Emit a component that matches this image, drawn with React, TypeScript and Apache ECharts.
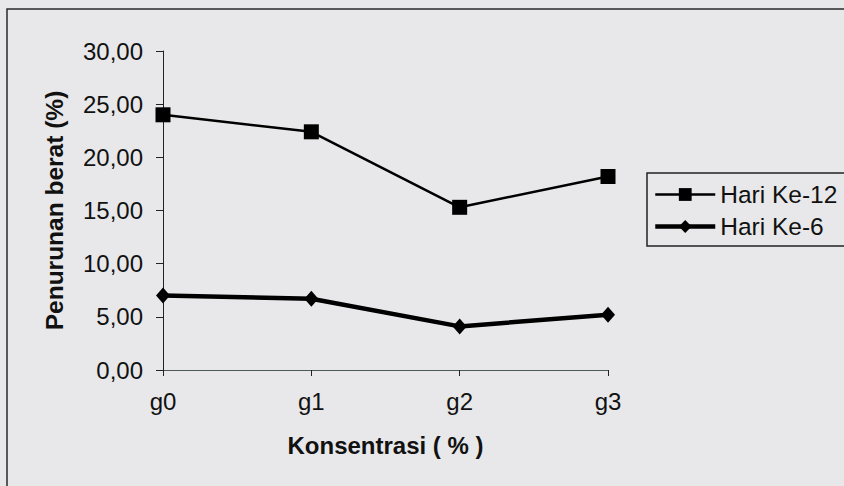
import React, { useEffect, useRef } from "react";
import * as echarts from "echarts";

const categories = ["g0", "g1", "g2", "g3"];
const hariKe12 = [24.0, 22.4, 15.3, 18.2];
const hariKe6 = [7.0, 6.7, 4.1, 5.2];
const yTicks = { min: 0, max: 30, interval: 5 };
const seriesNames = ["Hari Ke-12", "Hari Ke-6"];
const xName = "Konsentrasi ( % )";
const yName = "Penurunan berat (%)";

const FONT = "'Liberation Sans', Arial, sans-serif";

export default function App() {
  const ref = useRef<HTMLDivElement>(null);
  useEffect(() => {
    document.body.style.margin = "0";
    const chart = echarts.init(ref.current!, null, { renderer: "svg" });
    chart.setOption({
      animation: false,
      backgroundColor: "#e8e8ea",
      textStyle: { fontFamily: FONT, color: "#111" },
      graphic: [
        {
          type: "rect",
          shape: { x: 7, y: 9, width: 850, height: 490 },
          style: { fill: "none", stroke: "#2a2a2a", lineWidth: 1.5 },
          silent: true,
        },
      ],
      grid: { left: 163, right: 236, top: 51, bottom: 116, containLabel: false },
      legend: {
        orient: "vertical",
        left: 647,
        top: 173,
        data: [
          { name: seriesNames[0], lineStyle: { width: 2.5, color: "#000" } },
          { name: seriesNames[1], lineStyle: { width: 4.5, color: "#000" } },
        ],
        itemWidth: 60,
        itemHeight: 16,
        itemGap: 7,
        padding: [9, 12, 7, 6],
        borderColor: "#222",
        borderWidth: 1.5,
        textStyle: { fontFamily: FONT, fontSize: 24.5, color: "#111" },
      },
      xAxis: {
        type: "category",
        data: categories,
        boundaryGap: false,
        name: xName,
        nameLocation: "middle",
        nameGap: 63,
        nameTextStyle: { fontFamily: FONT, fontSize: 24, fontWeight: "bold", color: "#111" },
        axisLine: { lineStyle: { color: "#4d5a5a", width: 1 } },
        axisTick: { show: true, length: 6, inside: false, lineStyle: { color: "#222" } },
        axisLabel: { fontFamily: FONT, fontSize: 24, color: "#111", margin: 19 },
        splitLine: { show: false },
      },
      yAxis: {
        type: "value",
        min: yTicks.min,
        max: yTicks.max,
        interval: yTicks.interval,
        name: yName,
        nameLocation: "middle",
        nameGap: 96,
        nameTextStyle: { fontFamily: FONT, fontSize: 24.5, fontWeight: "bold", color: "#111" },
        axisLine: { show: true, lineStyle: { color: "#222", width: 1 } },
        axisTick: { show: true, length: 7, lineStyle: { color: "#222" } },
        axisLabel: {
          fontFamily: FONT,
          fontSize: 24,
          color: "#111",
          margin: 20,
          formatter: (v: number) => v.toFixed(2).replace(".", ","),
        },
        splitLine: { show: false },
      },
      series: [
        {
          name: seriesNames[0],
          type: "line",
          data: hariKe12,
          symbol: "rect",
          symbolSize: 15,
          itemStyle: { color: "#000" },
          lineStyle: { color: "#000", width: 2.5 },
        },
        {
          name: seriesNames[1],
          type: "line",
          data: hariKe6,
          symbol: "diamond",
          symbolSize: [14, 16],
          itemStyle: { color: "#000" },
          lineStyle: { color: "#000", width: 4.5 },
        },
      ],
    });
    return () => chart.dispose();
  }, []);
  return (
    <div
      ref={ref}
      style={{ position: "fixed", left: 0, top: 0, width: 844, height: 486 }}
    />
  );
}
